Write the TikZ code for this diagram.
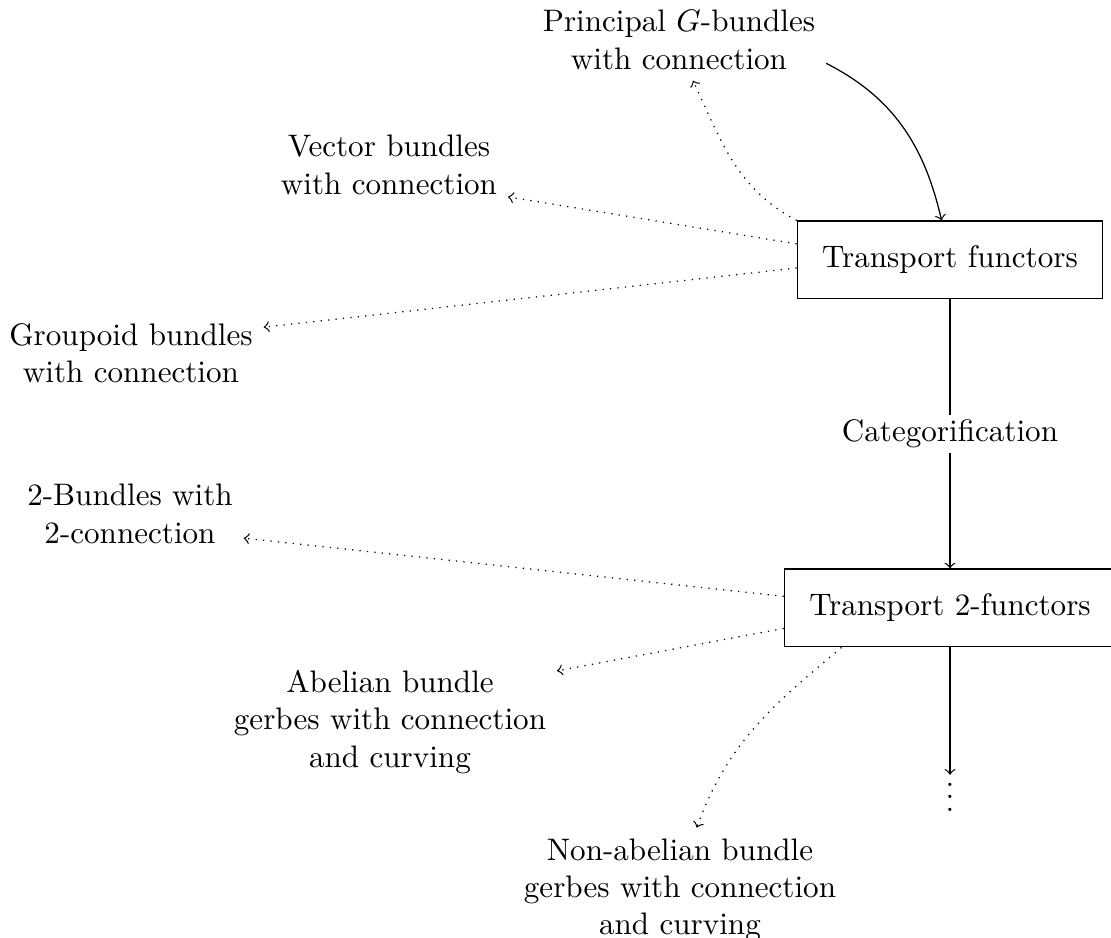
\documentclass[tikz,border=0pt]{standalone}
\begin{document}
\begin{tikzpicture}[x=0.3215pt,y=0.3215pt,
  box/.style={draw, inner sep=8pt},
  lbl/.style={align=center},
  dotarrow/.style={->, dotted},
  solidarrow/.style={->}]
\useasboundingbox (0,0) rectangle (1111,938);
\node[box] (tf) at (950,678) {Transport functors};
\node[box] (tf2) at (950,330) {Transport 2-functors};
\node[lbl] (prin) at (679,898) {Principal $G$-bundles\\with connection};
\node[lbl] (vec) at (389,773) {Vector bundles\\with connection};
\node[lbl] (grp) at (131,585) {Groupoid bundles\\with connection};
\node[lbl] (bun2) at (130,424) {2-Bundles with\\2-connection};
\node[lbl] (abel) at (390,216) {Abelian bundle\\gerbes with connection\\and curving};
\node[lbl] (nab) at (680,48) {Non-abelian bundle\\gerbes with connection\\and curving};
\node[inner sep=0pt] (vd) at (950,150) {$\vdots$};

\draw[solidarrow] (prin.-9) to[out=-27,in=103] (tf.102);
\draw[dotarrow] (tf.north west) to[out=152,in=-65] (prin.-71);
\draw[dotarrow] (tf.174) -- (vec.-15);
\draw[dotarrow] (tf.183) -- (grp.11);
\draw[solidarrow] (tf) -- node[fill=white, inner sep=1.5pt] {Categorification} (tf2);
\draw[dotarrow] (tf2.176.5) -- (bun2.-12);
\draw[dotarrow] (tf2.187) -- (abel.17);
\draw[dotarrow] (tf2.200) to[out=220,in=70] (nab.75);
\draw[solidarrow, shorten >=-3.5pt] (tf2) -- (vd);
\end{tikzpicture}
\end{document}
